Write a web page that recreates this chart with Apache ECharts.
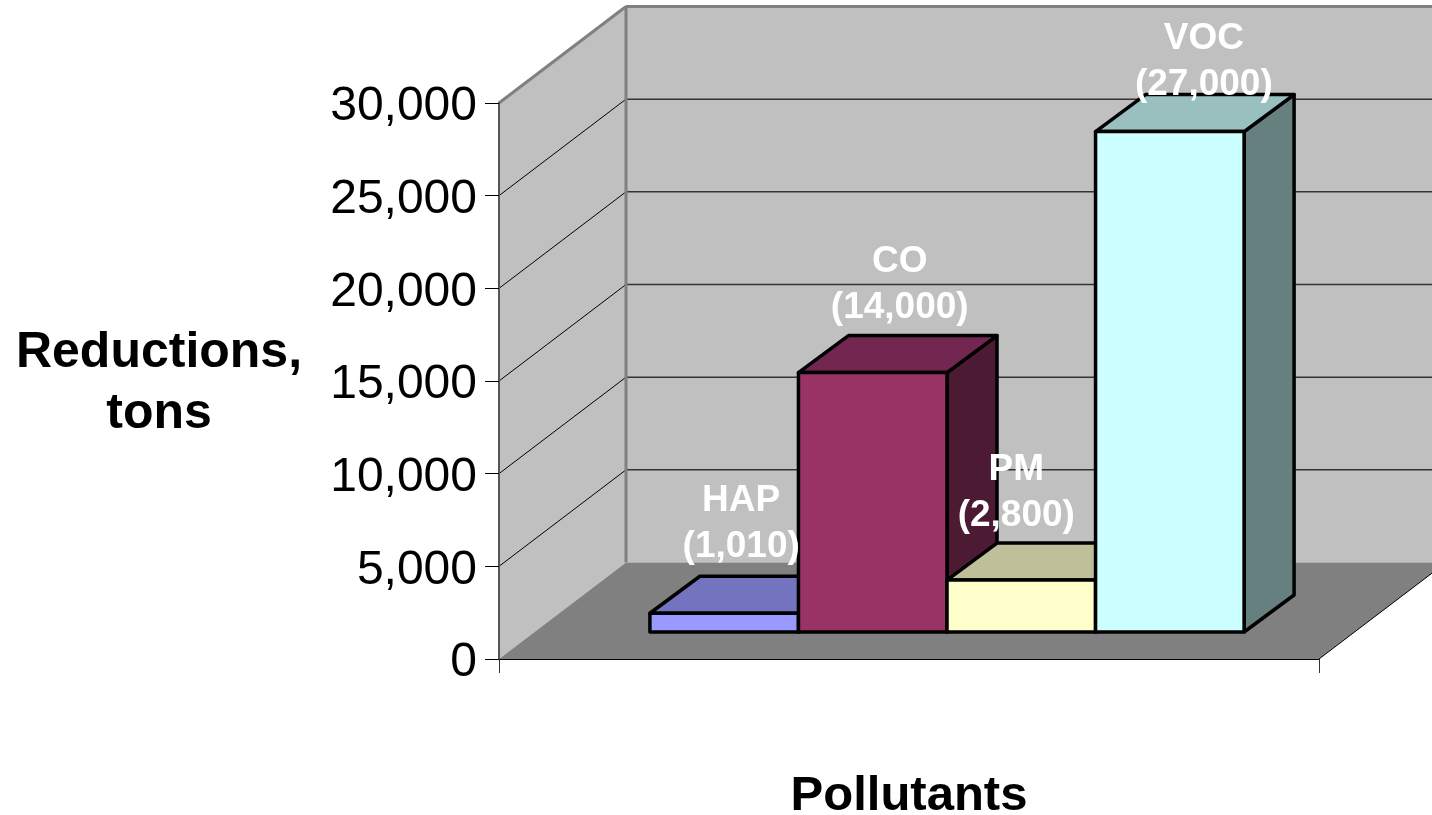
<!DOCTYPE html>
<html>
<head>
<meta charset="utf-8">
<style>
html, body { margin: 0; padding: 0; background: #fff; }
#main { width: 1432px; height: 815px; }
</style>
<script src="https://cdn.jsdelivr.net/npm/echarts@6/dist/echarts.min.js"></script>
</head>
<body>
<div id="main"></div>
<script>
var categories = ['Pollutants'];
var pollutants = ['HAP', 'CO', 'PM', 'VOC'];
var reductions = [1010, 14000, 2800, 27000];
var yTicks = [5000, 10000, 15000, 20000, 25000];

var frontColors = ['#9999ff', '#993366', '#ffffcc', '#ccffff'];
var topColors = ['#7373bf', '#732650', '#bfbf99', '#99bfbf'];
var sideColors = ['#4d4d80', '#4d1a33', '#808066', '#668080'];

// where each label sits, moved by hand from the middle of its bar
var labelShift = [[-8, -6], [2, -5], [-30, -4], [9, 13]];

var font = '"Liberation Sans", Arial, sans-serif';
var wallDepth = [127, -96.5];
var barShift = [38, -27];
var barDepth = [50, -37];
var gap = 1.52;

var myChart = echarts.init(document.getElementById('main'));

function poly(points, fill, stroke, width) {
    return {
        type: 'polygon',
        shape: { points: points },
        style: { fill: fill, stroke: stroke || null, lineWidth: width || 0, lineJoin: 'round' }
    };
}

function seg(p1, p2, color, width) {
    return {
        type: 'line',
        shape: { x1: p1[0], y1: p1[1], x2: p2[0], y2: p2[1] },
        style: { stroke: color, lineWidth: width }
    };
}

function back(p) {
    return [p[0] + wallDepth[0], p[1] + wallDepth[1]];
}

// walls, floor and the gridlines
function renderWalls(params, api) {
    var mid = api.coord([0, 0]);
    var band = api.size([1, 0])[0];
    var top = api.coord([0, 30000])[1];
    var a = [mid[0] - band / 2, mid[1]];
    var b = [mid[0] + band / 2, mid[1]];
    var c = [a[0], top];
    var d = [b[0], top];
    var kids = [
        poly([a, c, back(c), back(a)], '#c0c0c0'),
        poly([back(a), back(c), back(d), back(b)], '#c0c0c0'),
        poly([a, back(a), back(b), b], '#808080')
    ];
    yTicks.forEach(function (t) {
        var y = api.coord([0, t])[1];
        kids.push(seg([a[0], y], back([a[0], y]), '#000', 1));
        kids.push(seg(back([a[0], y]), back([b[0], y]), '#333', 1.5));
    });
    kids.push(seg(c, back(c), '#808080', 3));
    kids.push(seg(back(c), back(d), '#808080', 3));
    kids.push(seg(back(a), back(c), '#808080', 3));
    kids.push(seg(b, back(b), '#000', 1));
    return { type: 'group', children: kids };
}

function makeBarRenderer(idx) {
    return function (params, api) {
        var mid = api.coord([api.value(0), 0]);
        var band = api.size([1, 0])[0];
        var w = band / (pollutants.length + gap);
        var left = mid[0] - band / 2 + w * (gap / 2 + idx) + barShift[0];
        var base = mid[1] + barShift[1];
        var top = api.coord([api.value(0), api.value(1)])[1] + barShift[1];
        var dx = barDepth[0], dy = barDepth[1];
        var p1 = [left, base], p2 = [left + w, base];
        var p3 = [left + w, top], p4 = [left, top];
        var p5 = [left + dx, top + dy], p6 = [left + w + dx, top + dy];
        var p7 = [left + w + dx, base + dy];
        return {
            type: 'group',
            children: [
                poly([p2, p7, p6, p3], sideColors[idx], '#000', 3.5),
                poly([p4, p3, p6, p5], topColors[idx], '#000', 3.5),
                poly([p1, p2, p3, p4], frontColors[idx], '#000', 3.5),
                {
                    type: 'text',
                    z2: 100,
                    style: {
                        text: pollutants[idx] + '\n(' + api.value(1).toLocaleString('en-US') + ')',
                        x: left + w / 2 + dx / 2 + labelShift[idx][0],
                        y: top + dy + labelShift[idx][1],
                        fill: '#fff',
                        font: 'bold 37px ' + font,
                        lineHeight: 46,
                        align: 'center',
                        verticalAlign: 'bottom'
                    }
                }
            ]
        };
    };
}

var series = [{
    type: 'custom',
    name: 'walls',
    z: 1,
    clip: false,
    silent: true,
    renderItem: renderWalls,
    data: [[0, 0]]
}];

pollutants.forEach(function (name, i) {
    series.push({
        type: 'custom',
        name: name,
        z: 3,
        clip: false,
        renderItem: makeBarRenderer(i),
        encode: { x: 0, y: 1 },
        data: [[0, reductions[i]]]
    });
});

var nameRich = { fontFamily: font, fontSize: 50, fontWeight: 'bold', color: '#000' };

var option = {
    animation: false,
    backgroundColor: '#fff',
    textStyle: { fontFamily: font },
    grid: { left: 499, top: 103, width: 820, height: 556, outerBoundsMode: 'none' },
    xAxis: {
        type: 'category',
        data: categories,
        z: 2,
        name: 'Pollutants',
        nameLocation: 'middle',
        nameGap: 113,
        nameTextStyle: { fontFamily: font, fontSize: 49, fontWeight: 'bold', color: '#000' },
        axisLine: { lineStyle: { color: '#000', width: 1 } },
        axisTick: { show: true, alignWithLabel: false, length: 14, lineStyle: { color: '#333', width: 1 } },
        axisLabel: { show: false }
    },
    yAxis: {
        type: 'value',
        min: 0,
        max: 30000,
        interval: 5000,
        z: 2,
        name: '{a|Reductions,}\n{b|tons}',
        nameLocation: 'middle',
        nameRotate: 0,
        nameGap: 340,
        nameTextStyle: {
            align: 'center',
            rich: {
                a: Object.assign({ lineHeight: 67 }, nameRich),
                b: Object.assign({ lineHeight: 55 }, nameRich)
            }
        },
        axisLine: { show: true, lineStyle: { color: '#555', width: 2 } },
        axisTick: { show: true, length: 14, lineStyle: { color: '#000', width: 1 } },
        splitLine: { show: false },
        axisLabel: {
            margin: 22,
            fontFamily: font,
            fontSize: 48,
            color: '#000',
            verticalAlign: 'top',
            lineHeight: 8,
            formatter: function (v) { return v.toLocaleString('en-US'); }
        }
    },
    series: series
};

myChart.setOption(option);
</script>
</body>
</html>
